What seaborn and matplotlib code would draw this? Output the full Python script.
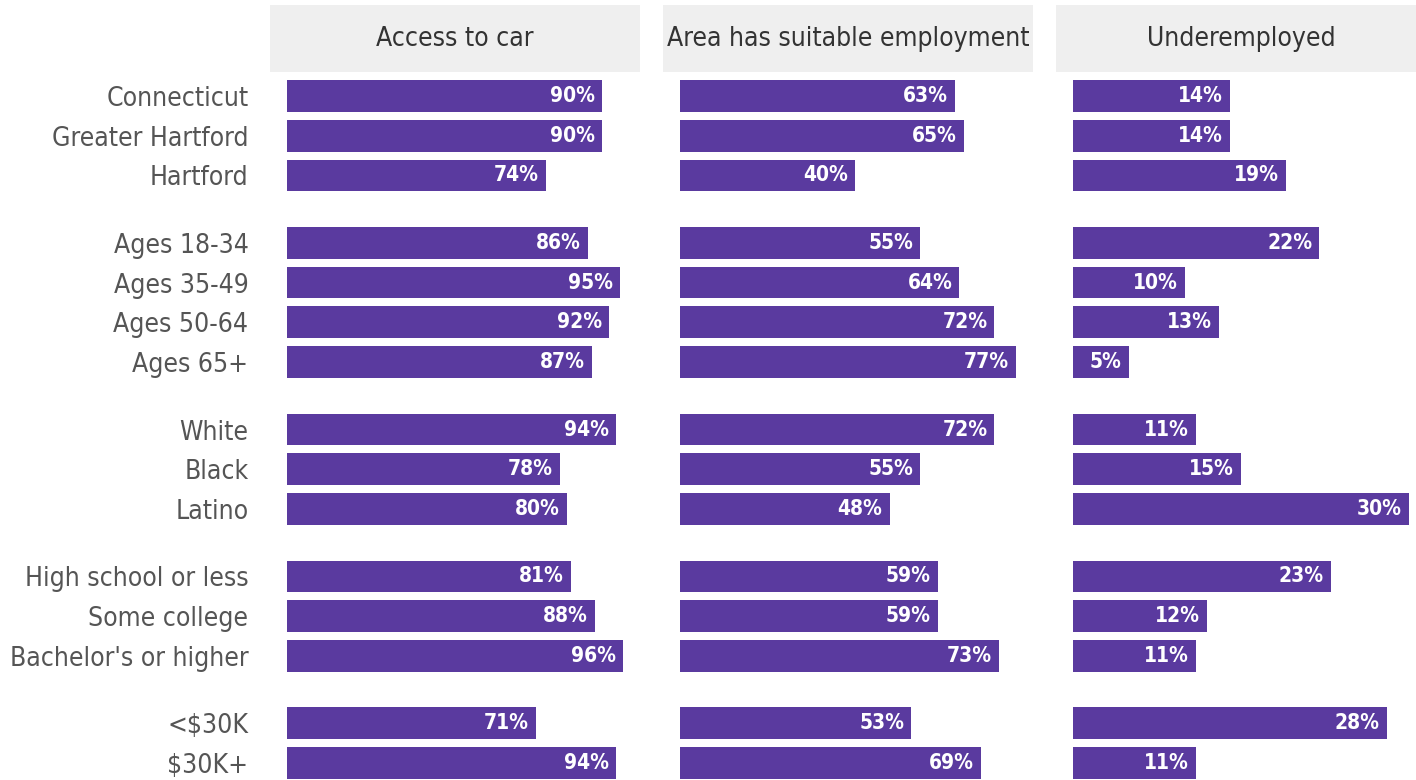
import matplotlib
matplotlib.use("Agg")
import matplotlib.pyplot as plt
import seaborn as sns
import pandas as pd

# ---------------- data ----------------
groups = [
    ["Connecticut", "Greater Hartford", "Hartford"],
    ["Ages 18-34", "Ages 35-49", "Ages 50-64", "Ages 65+"],
    ["White", "Black", "Latino"],
    ["High school or less", "Some college", "Bachelor's or higher"],
    ["<$30K", "$30K+"],
]
measures = ["Access to car", "Area has suitable employment", "Underemployed"]
access_to_car = [90, 90, 74, 86, 95, 92, 87, 94, 78, 80, 81, 88, 96, 71, 94]
suitable_employment = [63, 65, 40, 55, 64, 72, 77, 72, 55, 48, 59, 59, 73, 53, 69]
underemployed = [14, 14, 19, 22, 10, 13, 5, 11, 15, 30, 23, 12, 11, 28, 11]

labels = [l for g in groups for l in g]
group_ids = [gi for gi, g in enumerate(groups) for _ in g]
rows = []
for m, vals in zip(measures, [access_to_car, suitable_employment, underemployed]):
    for lab, gid, v in zip(labels, group_ids, vals):
        rows.append({"measure": m, "label": lab, "group": gid, "value": v})
df = pd.DataFrame(rows)

# ---------------- style ----------------
sns.set_style("white")
plt.rcParams["font.family"] = ["DejaVu Sans"]
plt.rcParams["font.stretch"] = "condensed"

PURPLE = "#5a3a9f"
W, H = 1416, 780
fig = plt.figure(figsize=(W / 100, H / 100), dpi=100)

ratios = [len(g) + 0.2 for g in groups]
gs = fig.add_gridspec(
    len(groups), 3, height_ratios=ratios,
    left=270 / W, right=1426 / W, top=1 - 72 / H, bottom=1 - 787 / H,
    wspace=0.062, hspace=0.154,
)

for ci, m in enumerate(measures):
    sub_m = df[df["measure"] == m]
    mx = sub_m["value"].max()
    for gi, g in enumerate(groups):
        ax = fig.add_subplot(gs[gi, ci])
        sub = sub_m[sub_m["group"] == gi]
        sns.barplot(data=sub, x="value", y="label", order=g, orient="h",
                    color=PURPLE, saturation=1, width=0.8, linewidth=0, ax=ax)
        for i, v in enumerate(sub["value"]):
            ax.annotate(f"{v}%", xy=(v, i), xytext=(-5, 0), textcoords="offset points",
                        ha="right", va="center", color="white", fontsize=15,
                        fontweight="bold", fontstretch="condensed")
        ax.set_xlim(-0.05 * mx, 1.05 * mx)
        ax.set_ylim(len(g) - 0.4, -0.6)
        ax.set_xlabel("")
        ax.set_ylabel("")
        ax.set_xticks([])
        sns.despine(ax=ax, left=True, bottom=True)
        if ci == 0:
            ax.tick_params(axis="y", left=False, pad=12, labelsize=19, labelcolor="#555555")
        else:
            ax.set_yticks([])
        if gi == 0:
            pos = ax.get_position()
            hax = fig.add_axes([pos.x0, pos.y1, pos.width, 67 / H])
            hax.set_facecolor("#efefef")
            hax.set_xticks([])
            hax.set_yticks([])
            for s in hax.spines.values():
                s.set_visible(False)
            hax.text(0.5, 0.5, m, ha="center", va="center", fontsize=19,
                     color="#333333", fontstretch="condensed", transform=hax.transAxes)

fig.savefig("out.png", dpi=100)
